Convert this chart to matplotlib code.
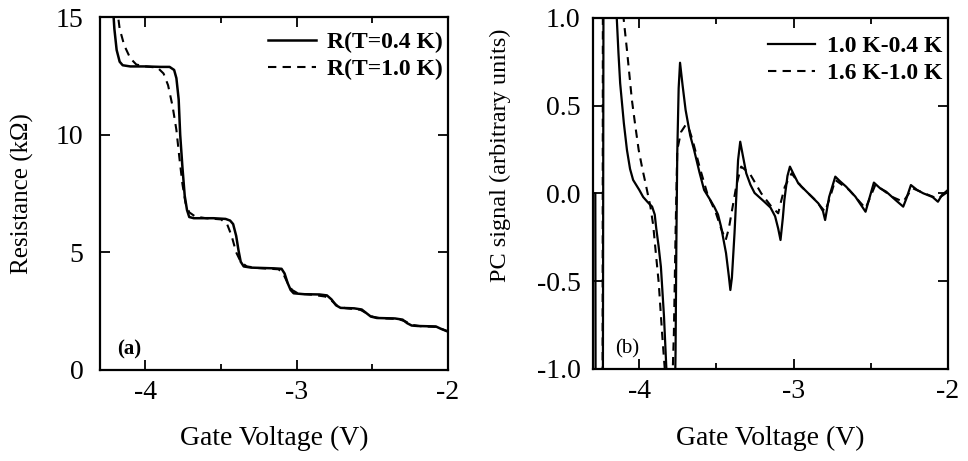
import matplotlib
matplotlib.use("Agg")
import matplotlib.pyplot as plt
from matplotlib.ticker import MultipleLocator

plt.rcParams["font.family"] = ["Liberation Serif", "DejaVu Serif"]
plt.rcParams["axes.unicode_minus"] = False

# (a) resistance vs gate voltage
va_04 = [-4.215, -4.205, -4.19, -4.17, -4.15, -4.10, -4.0, -3.9, -3.84, -3.81, -3.795, -3.78,
         -3.77, -3.755, -3.74, -3.725, -3.71, -3.68, -3.55, -3.47, -3.44, -3.42, -3.40, -3.385,
         -3.37, -3.35, -3.30, -3.15, -3.10, -3.08, -3.06, -3.04, -3.02, -2.95, -2.85, -2.80,
         -2.77, -2.74, -2.71, -2.62, -2.57, -2.54, -2.51, -2.47, -2.35, -2.30, -2.27, -2.24,
         -2.20, -2.08, -2.05, -2.0]
r_04 = [15.5, 14.5, 13.6, 13.1, 12.95, 12.9, 12.9, 12.88, 12.88, 12.75, 12.4, 11.5,
        10.0, 8.6, 7.4, 6.8, 6.5, 6.45, 6.45, 6.42, 6.35, 6.2, 5.7, 5.1,
        4.6, 4.4, 4.35, 4.32, 4.30, 4.1, 3.7, 3.4, 3.26, 3.22, 3.21, 3.17,
        3.0, 2.75, 2.64, 2.62, 2.57, 2.42, 2.27, 2.21, 2.19, 2.14, 1.99, 1.89,
        1.87, 1.85, 1.76, 1.63]
va_10 = [-4.19, -4.17, -4.14, -4.10, -4.06, -4.0, -3.92, -3.88, -3.85, -3.82, -3.795, -3.775,
         -3.755, -3.735, -3.71, -3.67, -3.60, -3.50, -3.46, -3.43, -3.40, -3.37, -3.33, -3.25,
         -3.12, -3.09, -3.06, -3.03, -2.99, -2.90, -2.81, -2.77, -2.73, -2.68, -2.58, -2.54,
         -2.50, -2.45, -2.33, -2.28, -2.24, -2.18, -2.08, -2.04, -2.0]
r_10 = [15.5, 14.5, 13.8, 13.25, 12.98, 12.9, 12.85, 12.6, 12.1, 11.2, 10.2, 9.0,
        7.9, 7.1, 6.7, 6.52, 6.45, 6.4, 6.2, 5.7, 5.0, 4.6, 4.4, 4.33,
        4.28, 4.1, 3.7, 3.4, 3.25, 3.2, 3.12, 2.95, 2.72, 2.63, 2.56, 2.42,
        2.27, 2.2, 2.17, 2.06, 1.92, 1.86, 1.83, 1.74, 1.64]

# (b) PC signal
vb_1 = [-4.285, -4.283, -4.236, -4.232, -4.15, -4.146, -4.135, -4.124, -4.10, -4.08, -4.06, -4.04,
        -4.0, -3.975, -3.945, -3.917, -3.90, -3.89, -3.875, -3.86, -3.84, -3.825, -3.815, -3.77,
        -3.765, -3.76, -3.754, -3.745, -3.736, -3.72, -3.70, -3.67, -3.645, -3.61, -3.58, -3.545,
        -3.515, -3.49, -3.47, -3.438, -3.42, -3.41, -3.40, -3.383, -3.36, -3.346, -3.33, -3.307,
        -3.28, -3.253, -3.19, -3.15, -3.12, -3.10, -3.085, -3.07, -3.06, -3.04, -3.024, -3.00,
        -2.97, -2.905, -2.84, -2.81, -2.796, -2.77, -2.73, -2.70, -2.66, -2.60, -2.56, -2.534,
        -2.51, -2.48, -2.44, -2.40, -2.34, -2.29, -2.27, -2.24, -2.20, -2.16, -2.10, -2.065,
        -2.04, -2.0]
pc_1 = [0.0, -1.2, -1.2, 1.2, 1.2, 1.0, 0.8, 0.628, 0.40, 0.248, 0.14, 0.077,
        0.02, -0.02, -0.05, -0.075, -0.12, -0.20, -0.30, -0.418, -0.70, -0.99, -1.2, -1.2,
        -0.9, -0.3, 0.23, 0.60, 0.745, 0.62, 0.476, 0.33, 0.248, 0.12, 0.02, -0.03,
        -0.075, -0.12, -0.19, -0.34, -0.47, -0.55, -0.48, -0.226, 0.19, 0.295, 0.22, 0.115,
        0.05, 0.003, -0.047, -0.08, -0.13, -0.20, -0.265, -0.14, -0.037, 0.10, 0.153, 0.11,
        0.058, 0.001, -0.056, -0.10, -0.151, -0.02, 0.096, 0.07, 0.039, -0.018, -0.07, -0.104,
        -0.03, 0.062, 0.03, 0.010, -0.037, -0.075, -0.03, 0.048, 0.02, 0.001, -0.02, -0.047,
        -0.01, 0.02]
vb_2 = [-4.238, -4.236, -4.105, -4.102, -4.08, -4.048, -4.025, -4.004, -3.98, -3.96, -3.928, -3.91,
        -3.895, -3.874, -3.852, -3.835, -3.825, -3.79, -3.776, -3.765, -3.754, -3.73, -3.70, -3.675,
        -3.655, -3.61, -3.56, -3.503, -3.47, -3.44, -3.42, -3.395, -3.37, -3.34, -3.285, -3.21,
        -3.144, -3.10, -3.08, -3.057, -3.013, -2.95, -2.86, -2.796, -2.76, -2.73, -2.64, -2.534,
        -2.47, -2.36, -2.29, -2.23, -2.15, -2.065, -2.0]
pc_2 = [-1.2, 1.2, 1.2, 1.0, 0.818, 0.533, 0.38, 0.248, 0.14, 0.06, -0.075, -0.18,
        -0.32, -0.51, -0.80, -1.0, -1.2, -1.2, -0.80, -0.226, 0.248, 0.35, 0.39, 0.36,
        0.305, 0.153, 0.001, -0.113, -0.20, -0.265, -0.20, -0.075, 0.05, 0.153, 0.115, 0.001,
        -0.075, -0.113, -0.04, 0.039, 0.115, 0.039, -0.037, -0.104, -0.01, 0.077, 0.02, -0.085,
        0.05, -0.02, -0.047, 0.03, 0.0, -0.03, 0.01]

fig = plt.figure(figsize=(9.68, 4.61), dpi=100)
ax1 = fig.add_axes([0.1033, 0.1974, 0.3595, 0.7657])
ax2 = fig.add_axes([0.6126, 0.1996, 0.3667, 0.7614])

dash = (4, 3)
ax1.plot(va_04, r_04, color="black", lw=1.8, label="R(T=0.4 K)")
ax1.plot(va_10, r_10, color="black", lw=1.5, dashes=dash, label="R(T=1.0 K)")
ax2.plot(vb_1, pc_1, color="black", lw=1.6, label="1.0 K-0.4 K")
ax2.plot(vb_2, pc_2, color="black", lw=1.5, dashes=dash, label="1.6 K-1.0 K")

for ax in (ax1, ax2):
    ax.set_xlim(-4.3, -2.0)
    ax.xaxis.set_major_locator(MultipleLocator(1))
    ax.xaxis.set_minor_locator(MultipleLocator(0.5))
    ax.tick_params(which="both", direction="in", top=True, right=True, width=1.3)
    ax.tick_params(which="major", length=7, labelsize=20)
    ax.tick_params(which="minor", length=4)
    ax.tick_params(axis="x", pad=7)
    for s in ax.spines.values():
        s.set_linewidth(1.6)
    ax.set_xlabel("Gate Voltage (V)", fontsize=20)

leg_kw = dict(loc="upper right", frameon=False, prop={"size": 17, "weight": "bold"},
              handlelength=2.0, handletextpad=0.5, borderpad=0, borderaxespad=0,
              labelspacing=0.25)
ax1.legend(bbox_to_anchor=(0.986, 0.959), **leg_kw)
ax2.legend(bbox_to_anchor=(0.983, 0.950), **leg_kw)

ax1.set_ylim(0, 15)
ax1.yaxis.set_major_locator(MultipleLocator(5))
ax1.tick_params(axis="y", pad=12)
ax1.set_ylabel("Resistance (kΩ)", fontsize=18)
ax1.yaxis.set_label_coords(-0.19, 0.5)
ax1.xaxis.set_label_coords(0.5, -0.158)
ax1.text(0.049, 0.045, "(a)", transform=ax1.transAxes, fontsize=15, fontweight="bold")

ax2.set_ylim(-1.0, 1.0)
ax2.yaxis.set_major_locator(MultipleLocator(0.5))
ax2.yaxis.set_major_formatter(plt.FormatStrFormatter("%.1f"))
ax2.tick_params(axis="y", pad=9)
ax2.set_ylabel("PC signal (arbitrary units)", fontsize=17.5)
ax2.yaxis.set_label_coords(-0.232, 0.61)
ax2.xaxis.set_label_coords(0.5, -0.162)
ax2.text(0.062, 0.045, "(b)", transform=ax2.transAxes, fontsize=15)

fig.savefig("out.png", dpi=100)
